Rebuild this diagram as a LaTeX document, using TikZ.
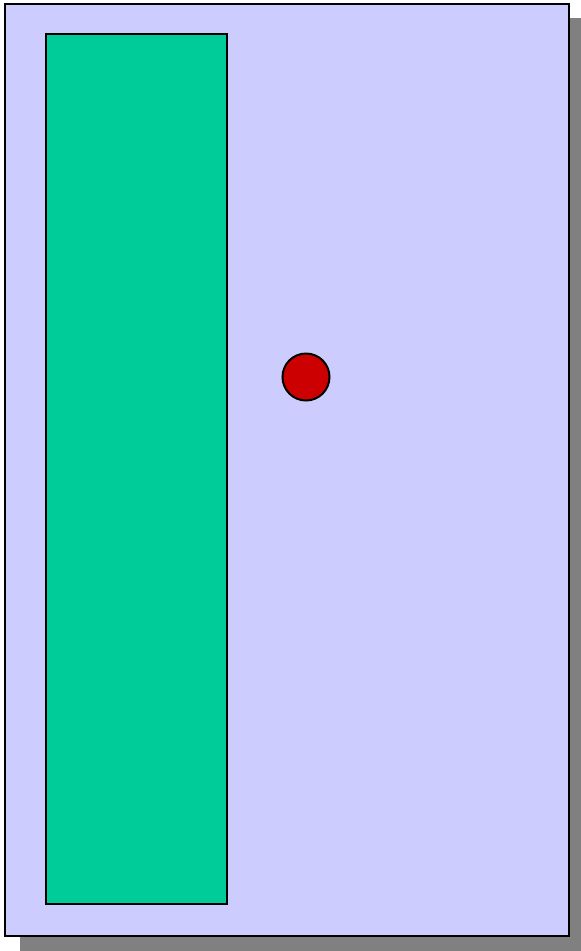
\documentclass[tikz,border=0pt]{standalone}
\definecolor{lav}{HTML}{CCCCFF}
\definecolor{grn}{HTML}{00CC99}
\definecolor{rd}{HTML}{CC0000}
\definecolor{shd}{HTML}{808080}
\begin{document}
\begin{tikzpicture}[x=1pt,y=-1pt,
  box/.style={draw=black,line width=2pt}]
\useasboundingbox (0,0) rectangle (581,951);
\fill[white] (0,0) rectangle (581,951);
\fill[shd] (20,18) rectangle (585,951);
\path[box,fill=lav] (5,4) rectangle (569,936);
\path[box,fill=grn] (46,34) rectangle (227,904);
\node[box,fill=rd,circle,minimum size=47pt,inner sep=0pt] (dot) at (306,377) {};
\end{tikzpicture}
\end{document}
